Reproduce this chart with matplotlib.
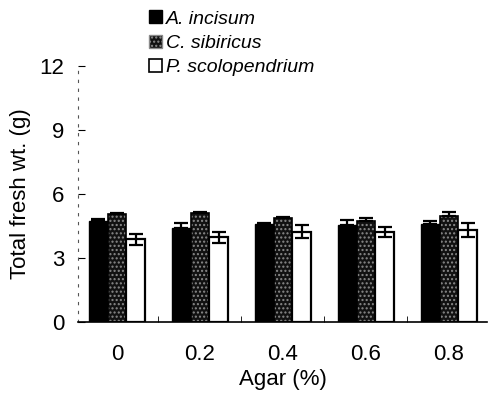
import numpy as np
import matplotlib
matplotlib.use("Agg")
import matplotlib.pyplot as plt
from matplotlib.patches import Patch

plt.rcParams['font.family'] = ['Liberation Sans', 'DejaVu Sans']

# Data
agar = ['0', '0.2', '0.4', '0.6', '0.8']
species = ['A. incisum', 'C. sibiricus', 'P. scolopendrium']
incisum = [4.73, 4.39, 4.59, 4.55, 4.58]
incisum_err = [0.11, 0.26, 0.05, 0.24, 0.13]
sibiricus = [5.05, 5.10, 4.85, 4.73, 4.97]
sibiricus_err = [0.04, 0.04, 0.08, 0.12, 0.16]
scolo = [3.87, 3.97, 4.22, 4.23, 4.30]
scolo_err = [0.26, 0.26, 0.30, 0.24, 0.32]

fig = plt.figure(figsize=(4.9, 3.94), dpi=100)
ax = fig.add_axes([0.159, 0.183, 0.835, 0.650])

x = np.arange(len(agar))
w = 0.225
ekw = dict(elinewidth=1.6, capthick=1.6, capsize=5, ecolor='black')

ax.bar(x - w, incisum, w, color='black', edgecolor='black', linewidth=1,
       yerr=[np.zeros(5), incisum_err], error_kw=ekw, zorder=2)
# stippled dark bars: hatch layer then outline
ax.bar(x, sibiricus, w, color='#111111', edgecolor='#8a8a8a', hatch='....',
       linewidth=0, zorder=2)
ax.bar(x, sibiricus, w, color='none', edgecolor='black', linewidth=1.2,
       yerr=[np.zeros(5), sibiricus_err], error_kw=ekw, zorder=3)
ax.bar(x + w, scolo, w, color='white', edgecolor='black', linewidth=1.6,
       yerr=scolo_err, error_kw=ekw, zorder=2)

ax.set_xlim(-0.47, 4.46)
ax.set_ylim(0, 12)
ax.set_yticks([0, 3, 6, 9, 12])
ax.set_xticks(x)
ax.set_xticklabels(agar)
ax.tick_params(axis='y', direction='in', length=5, width=0.8, pad=10,
               labelsize=16)
ax.tick_params(axis='x', length=0, pad=16, labelsize=16)
ax.set_xticks(x[:-1] + 0.5, minor=True)
ax.tick_params(axis='x', which='minor', direction='in', length=4, width=0.6)

for s in ['top', 'right']:
    ax.spines[s].set_visible(False)
ax.spines['left'].set_linestyle((0, (2, 6)))
ax.spines['left'].set_linewidth(0.8)
ax.spines['left'].set_color('#555555')
ax.spines['bottom'].set_linewidth(1.2)

ax.set_xlabel('Agar (%)', fontsize=16, labelpad=3)
ax.set_ylabel('Total fresh wt. (g)', fontsize=16, labelpad=6)

handles = [Patch(facecolor='black', edgecolor='black'),
           Patch(facecolor='#111111', edgecolor='#8a8a8a', hatch='....'),
           Patch(facecolor='white', edgecolor='black', linewidth=1.2)]
leg = fig.legend(handles, species, loc='upper left',
                 bbox_to_anchor=(0.28, 1.003), frameon=False,
                 prop={'style': 'italic', 'size': 14},
                 handlelength=0.65, handleheight=0.65, handletextpad=0.25,
                 labelspacing=0.35, borderaxespad=0.2)

fig.savefig('out.png', dpi=100)
